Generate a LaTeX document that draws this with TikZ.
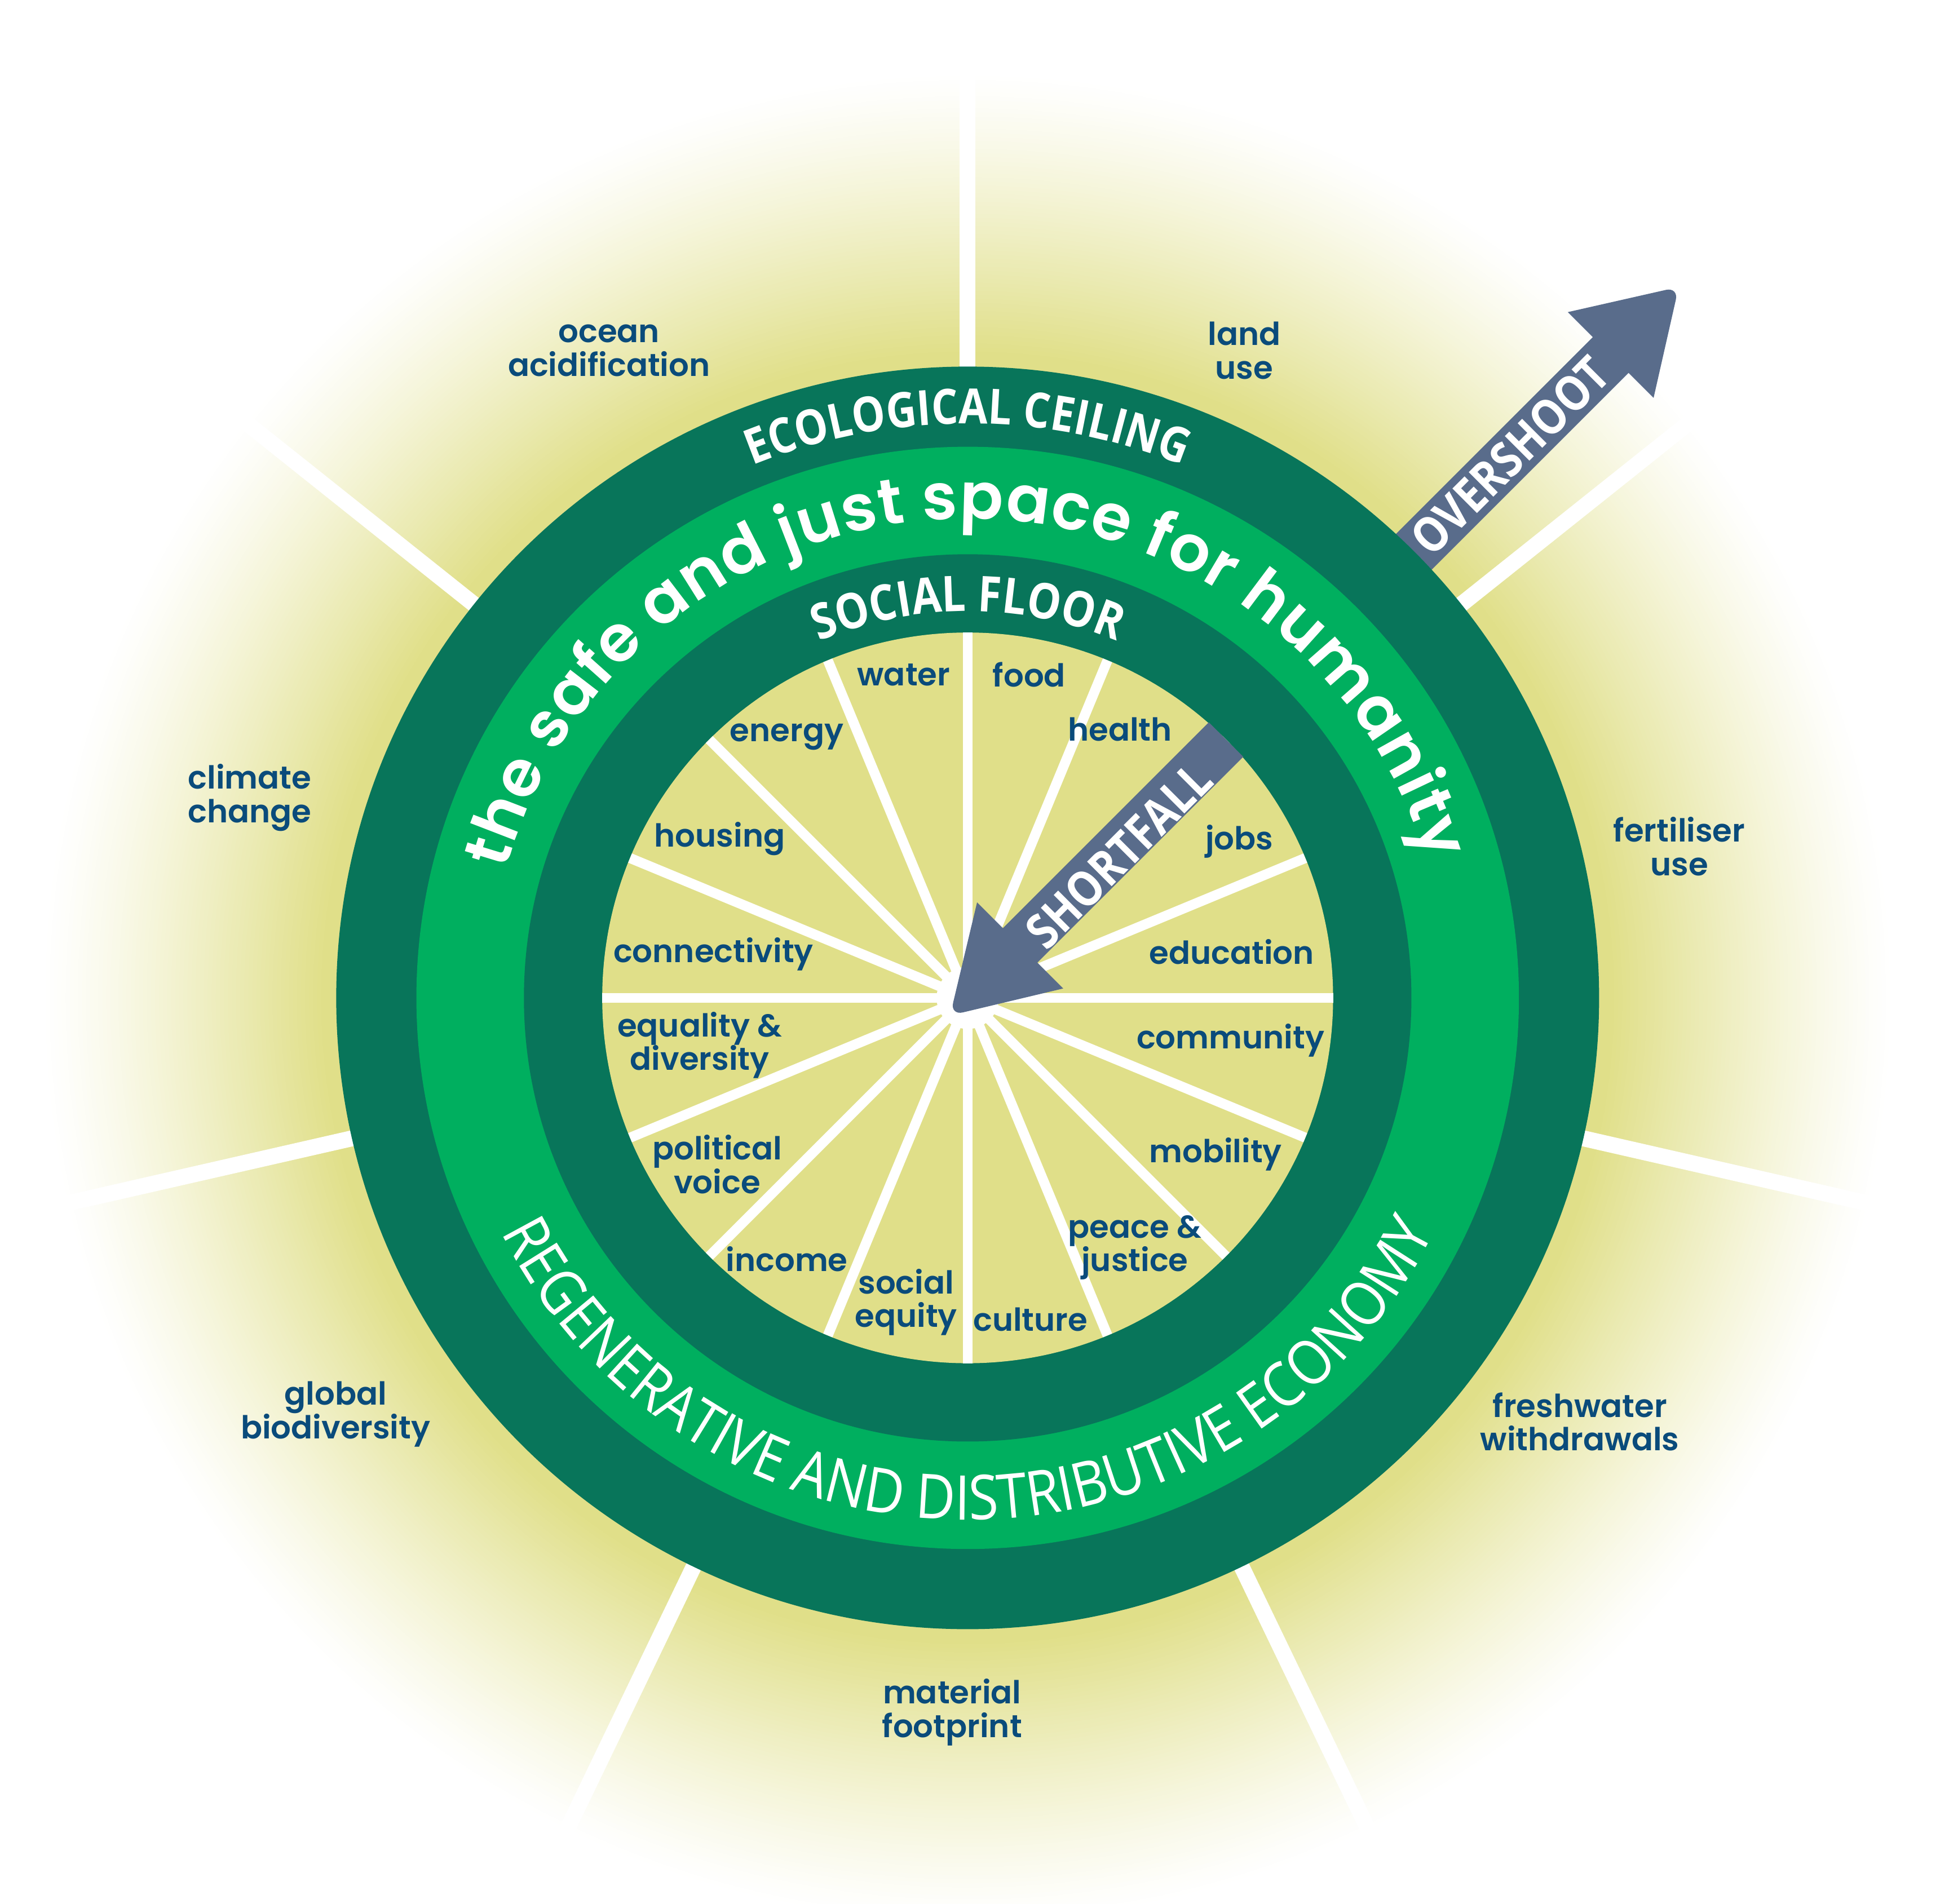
\documentclass[tikz,border=0pt]{standalone}
\usepackage{fontspec}
\setmainfont{Poppins}
\newfontfamily\lblfont{Poppins SemiBold}
\newfontfamily\bigfont{Poppins SemiBold}
\newfontfamily\capfont{Open Sans}[FakeStretch=0.86]
\newfontfamily\regfont{Open Sans}[FakeStretch=0.88]
\usetikzlibrary{decorations.text}
\definecolor{yel}{HTML}{E0DF89}
\definecolor{dkgreen}{HTML}{08755A}
\definecolor{ltgreen}{HTML}{00AF5F}
\definecolor{navy}{HTML}{0A4B7B}
\definecolor{slate}{HTML}{596C8B}
\begin{document}
\begin{tikzpicture}[x=0.02cm,y=0.02cm,
  lbl/.style={text=navy, font=\lblfont\fontsize{14.5}{15.4}\selectfont, align=center, inner sep=0pt},
  ospoke/.style={draw=white, line width=0.256cm},
  ispoke/.style={draw=white, line width=0.16cm},
  arrowtxt/.style={text=white, font=\capfont\bfseries\fontsize{22.3}{24}\selectfont, inner sep=0pt, rotate=45}]
\useasboundingbox (-778.5,-729) rectangle (789.5,803);
\fill[white] (-778.5,-729) rectangle (789.5,803);
% glow: concentric rings fading from yellow to white
\foreach \i in {0,...,69} {
  \pgfmathsetmacro{\rr}{745-\i*225/69}
  \pgfmathsetmacro{\pp}{100*((\i/69)^1.2)}
  \fill[yel!\pp!white] (0,0) circle[radius=\rr];
}
% outer spokes
\foreach \k in {0,...,6} {
  \draw[ospoke] ({90+\k*360/7}:480) -- ({90+\k*360/7}:745);
}
% overshoot arrow
\begin{scope}[rotate=45]
  \fill[slate] (470,20.3) -- (731.6,20.3) -- (731.6,48.8) [rounded corners=6pt] -- (809,0) [sharp corners] -- (731.6,-48.8) -- (731.6,-20.3) -- (470,-20.3) -- cycle;
\end{scope}
% rings
\fill[dkgreen] (0,0) circle[radius=508];
\fill[ltgreen] (0,0) circle[radius=443.5];
\fill[dkgreen] (0,0) circle[radius=357];
\fill[yel] (0,0) circle[radius=294];
% inner spokes
\foreach \a in {0,22.5,...,337.5} {
  \draw[ispoke] (0,0) -- (\a:294);
}
\fill[white] (0,0) circle[radius=25];
% shortfall arrow
\begin{scope}[rotate=45]
  \fill[slate] (294,19.6) -- (59.7,19.6) -- (59.7,49) [rounded corners=6pt] -- (-20,0) [sharp corners] -- (59.7,-49) -- (59.7,-19.6) -- (294,-19.6) -- cycle;
\end{scope}
\node[arrowtxt] (overshoot) at (45:617) {OVERSHOOT};
\node[arrowtxt] (shortfall) at (121.7,114.8) {SHORTFALL};
% curved texts
\path[decorate, decoration={text along path, text align=center, text color=white,
  text={|\capfont\bfseries\fontsize{22.3}{24}\selectfont|ECOLOGICAL CEILING}}]
  (160:462) arc[start angle=160, end angle=20, radius=462];
\path[decorate, decoration={text along path, text align=fit to path, text color=white,
  text={|\bigfont\fontsize{29.5}{31}\selectfont|the safe and just space for humanity}}]
  (164.5:385.5) arc[start angle=164.5, end angle=16.5, radius=385.5];
\path[decorate, decoration={text along path, text align=center, text color=white,
  text={|\capfont\bfseries\fontsize{22.6}{24}\selectfont|SOCIAL FLOOR}}]
  (150:311) arc[start angle=150, end angle=30, radius=311];
\path[decorate, decoration={text along path, text align=center, text color=white,
  text={|\regfont\fontsize{28.3}{30}\selectfont|REGENERATIVE AND DISTRIBUTIVE ECONOMY}}]
  (195:420) arc[start angle=195, end angle=345, radius=420];
% outer labels
\node[lbl] (ocean) at (-288.5,521) {ocean\\acidification};
\node[lbl] (land) at (222.5,521) {land\\use};
\node[lbl] (climate) at (-577.5,161) {climate\\change};
\node[lbl] (fert) at (572.5,122) {fertiliser\\use};
\node[lbl] (biodiv) at (-508.5,-335) {global\\biodiversity};
\node[lbl] (fresh) at (492.5,-341) {freshwater\\withdrawals};
\node[lbl] (material) at (-12.5,-575) {material\\footprint};
% inner labels
\node[lbl] (water) at (-51.5,260) {water};
\node[lbl] (food) at (49.5,260) {food};
\node[lbl] (health) at (122.5,216) {health};
\node[lbl] (energy) at (-145.5,210) {energy};
\node[lbl] (housing) at (-199.5,128) {housing};
\node[lbl] (jobs) at (218.5,126) {jobs};
\node[lbl] (connect) at (-204.5,35) {connectivity};
\node[lbl] (educ) at (212.5,37) {education};
\node[lbl] (equal) at (-215.5,-38) {equality \&\\diversity};
\node[lbl] (commun) at (211.5,-34) {community};
\node[lbl] (polit) at (-201.5,-134) {political\\voice};
\node[lbl] (mobil) at (199.5,-126) {mobility};
\node[lbl] (peace) at (134.5,-201) {peace \&\\justice};
\node[lbl] (income) at (-145.5,-210) {income};
\node[lbl] (socialeq) at (-49.5,-245) {social\\equity};
\node[lbl] (culture) at (50.5,-259) {culture};
\end{tikzpicture}
\end{document}
